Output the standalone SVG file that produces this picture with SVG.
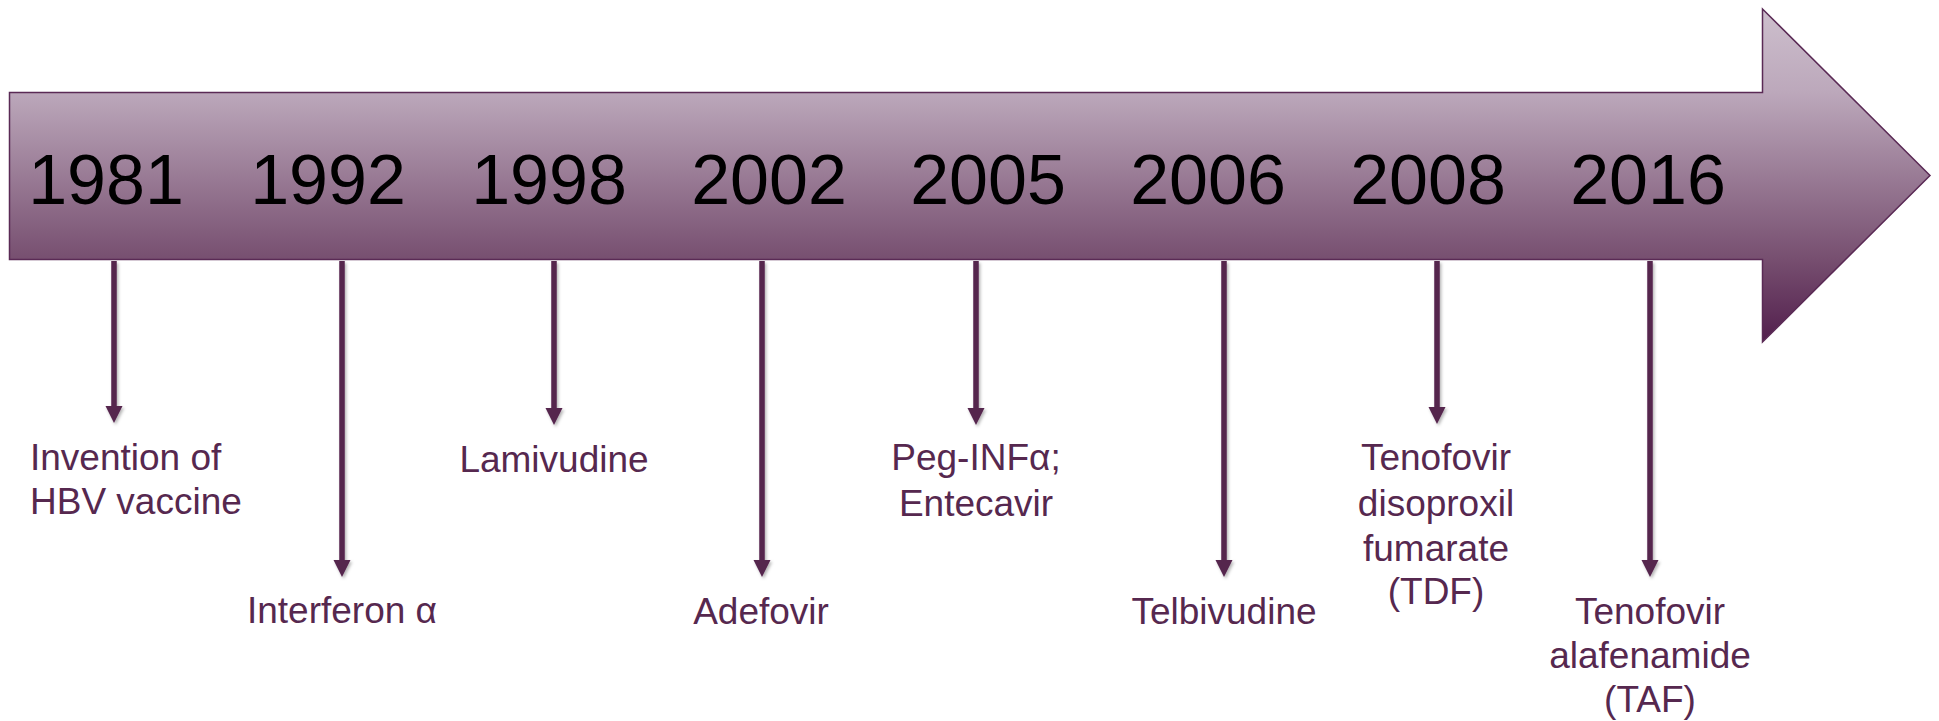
<svg xmlns="http://www.w3.org/2000/svg" width="1939" height="721" viewBox="0 0 1939 721">
<defs>
<linearGradient id="g" x1="0" y1="9" x2="0" y2="342" gradientUnits="userSpaceOnUse">
<stop offset="0" stop-color="#cdbfcd"/>
<stop offset="0.25" stop-color="#bca8bb"/>
<stop offset="0.75" stop-color="#774f70"/>
<stop offset="1" stop-color="#521f4d"/>
</linearGradient>
<marker id="ah" markerUnits="userSpaceOnUse" markerWidth="18" markerHeight="18" refX="2" refY="8.5" orient="auto">
<path d="M0,0 L17,8.5 L0,17 Z" fill="#54254d"/>
</marker>
<filter id="sh" filterUnits="userSpaceOnUse" x="0" y="0" width="1939" height="721">
<feDropShadow dx="1.5" dy="2" stdDeviation="1.5" flood-color="#000" flood-opacity="0.3"/>
</filter>
<style>
.yr{font-family:"Liberation Sans",Arial,sans-serif;font-size:70px;fill:#000;text-anchor:middle}
.lb{font-family:"Liberation Sans",Arial,sans-serif;font-size:37px;fill:#56284f;text-anchor:middle}
.cn{stroke:#54254d;stroke-width:5.5;fill:none;marker-end:url(#ah)}
</style>
</defs>
<g id="timeline">
<path d="M9.5,92.5 H1762.5 V9 L1930,175.5 L1762.5,342 V259.5 H9.5 Z" fill="url(#g)" stroke="#5a2a55" stroke-width="1.5"/>
<text class="yr" x="106" y="204">1981</text>
<text class="yr" x="328" y="204">1992</text>
<text class="yr" x="549" y="204">1998</text>
<text class="yr" x="769" y="204">2002</text>
<text class="yr" x="988" y="204">2005</text>
<text class="yr" x="1208" y="204">2006</text>
<text class="yr" x="1428" y="204">2008</text>
<text class="yr" x="1648" y="204">2016</text>
</g>
<g id="connectors" filter="url(#sh)">
<line class="cn" x1="114" y1="261" x2="114" y2="408"/>
<line class="cn" x1="342" y1="261" x2="342" y2="562"/>
<line class="cn" x1="554" y1="261" x2="554" y2="410"/>
<line class="cn" x1="762" y1="261" x2="762" y2="562"/>
<line class="cn" x1="976" y1="261" x2="976" y2="410"/>
<line class="cn" x1="1224" y1="261" x2="1224" y2="562"/>
<line class="cn" x1="1437" y1="261" x2="1437" y2="409"/>
<line class="cn" x1="1650" y1="261" x2="1650" y2="562"/>
</g>
<g id="n1981"><text class="lb" style="text-anchor:start" x="30" y="470">Invention of</text><text class="lb" style="text-anchor:start" x="30" y="514">HBV vaccine</text></g>
<g id="n1992"><text class="lb" x="342" y="623">Interferon α</text></g>
<g id="n1998"><text class="lb" x="554" y="472">Lamivudine</text></g>
<g id="n2002"><text class="lb" x="761" y="624">Adefovir</text></g>
<g id="n2005"><text class="lb" x="976" y="470">Peg-INFα;</text><text class="lb" x="976" y="516">Entecavir</text></g>
<g id="n2006"><text class="lb" x="1224" y="624">Telbivudine</text></g>
<g id="n2008"><text class="lb" x="1436" y="470">Tenofovir</text><text class="lb" x="1436" y="516">disoproxil</text><text class="lb" x="1436" y="561">fumarate</text><text class="lb" x="1436" y="604">(TDF)</text></g>
<g id="n2016"><text class="lb" x="1650" y="624">Tenofovir</text><text class="lb" x="1650" y="668">alafenamide</text><text class="lb" x="1650" y="712">(TAF)</text></g>
</svg>
